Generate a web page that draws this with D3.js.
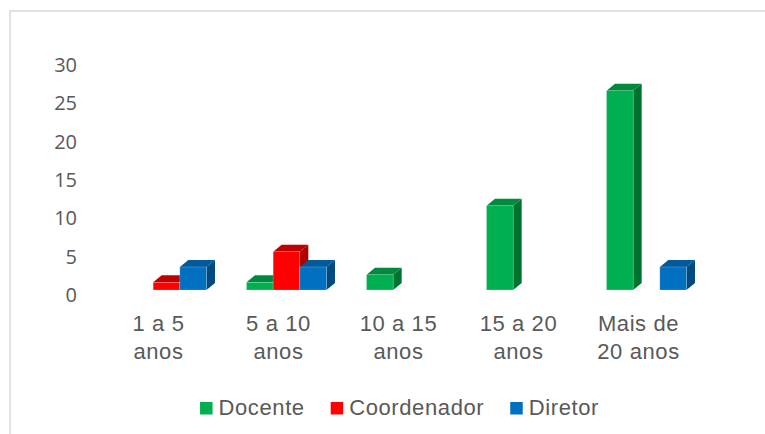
<!DOCTYPE html>
<html>
<head>
<meta charset="utf-8">
<script src="https://cdn.jsdelivr.net/npm/d3@7"></script>
<style>
  html, body { margin: 0; padding: 0; background: #ffffff; }
  svg { display: block; }
</style>
</head>
<body>
<svg id="chart" width="765" height="434"></svg>
<script>
// ---- Data ----
const categories = ["1 a 5 anos", "5 a 10 anos", "10 a 15 anos", "15 a 20 anos", "Mais de 20 anos"];
const categoryLines = [["1 a 5", "anos"], ["5 a 10", "anos"], ["10 a 15", "anos"], ["15 a 20", "anos"], ["Mais de", "20 anos"]];
const seriesNames = ["Docente", "Coordenador", "Diretor"];
const docente = [0, 1, 2, 11, 26];
const coordenador = [1, 5, 0, 0, 0];
const diretor = [3, 3, 0, 0, 3];
const yTicks = [0, 5, 10, 15, 20, 25, 30];

const seriesValues = [docente, coordenador, diretor];
const colors = {
  Docente:     { front: "#00B050", top: "#008A3E", side: "#00722F" },
  Coordenador: { front: "#FF0000", top: "#C00000", side: "#B00000" },
  Diretor:     { front: "#0070C0", top: "#005A9C", side: "#004A80" }
};

const svg = d3.select("#chart");
const W = 765, H = 434;
const textColor = "#595959";

// chart border (only left and top visible)
svg.append("path")
  .attr("d", `M10,${H} L10,11 L${W},11`)
  .attr("fill", "none")
  .attr("stroke", "#d9d9d9")
  .attr("stroke-width", 1.5);

// depth offsets for 3D effect
const DX = 8.5, DY = 7;

const x0 = d3.scaleBand().domain(categories).range([106.5, 706.5])
  .paddingInner(1/3).paddingOuter(1/6);
const x1 = d3.scaleBand().domain(seriesNames).range([0, x0.bandwidth()]);
const y = d3.scaleLinear().domain([0, 30]).range([290, 60]);

// y-axis labels
const yAxis = d3.axisLeft(y).tickValues(yTicks).tickSize(0).tickPadding(0);
const gy = svg.append("g").attr("transform", "translate(77,5)").call(yAxis);
gy.select(".domain").remove();
gy.selectAll("text")
  .attr("fill", textColor)
  .attr("font-family", "'Open Sans', 'Noto Sans', sans-serif")
  .attr("font-size", "20px");

// bars
const barsG = svg.append("g");
categories.forEach((cat, ci) => {
  seriesNames.forEach((s, si) => {
    const v = seriesValues[si][ci];
    if (!v) return;
    const xl = x0(cat) + x1(s);
    const xr = xl + x1.bandwidth();
    const yt = y(v), yb = y(0);
    const c = colors[s];
    const g = barsG.append("g");
    // side face
    g.append("path")
      .attr("d", `M${xr},${yt} L${xr + DX},${yt - DY} L${xr + DX},${yb - DY} L${xr},${yb} Z`)
      .attr("fill", c.side);
    // top face
    g.append("path")
      .attr("d", `M${xl},${yt} L${xl + DX},${yt - DY} L${xr + DX},${yt - DY} L${xr},${yt} Z`)
      .attr("fill", c.top);
    // front face
    g.append("rect")
      .attr("x", xl).attr("y", yt)
      .attr("width", xr - xl).attr("height", yb - yt)
      .attr("fill", c.front)
      .attr("stroke", "rgba(255,255,255,0.35)")
      .attr("stroke-width", 0.6);
  });
});

// category labels
const labelFont = "'Liberation Sans', Arial, sans-serif";
const catG = svg.append("g");
categories.forEach((cat, ci) => {
  const cx = x0(cat) + x0.bandwidth() / 2 - 8;
  const t = catG.append("text")
    .attr("text-anchor", "middle")
    .attr("fill", textColor)
    .attr("font-family", labelFont)
    .attr("font-size", "22px")
    .attr("letter-spacing", "0.6px");
  categoryLines[ci].forEach((line, li) => {
    t.append("tspan").attr("x", cx).attr("y", 331 + li * 28).text(line);
  });
});

// legend
const legendG = svg.append("g");
let lx = 0;
seriesNames.forEach((s, i) => {
  const item = legendG.append("g").attr("transform", `translate(${lx},0)`);
  item.append("rect")
    .attr("x", 0).attr("y", 402).attr("width", 12.5).attr("height", 12.5)
    .attr("fill", colors[s].front);
  const txt = item.append("text")
    .attr("x", 18.5).attr("y", 415)
    .attr("fill", textColor)
    .attr("font-family", labelFont)
    .attr("font-size", "22px")
    .attr("letter-spacing", "0.6px")
    .text(s);
  lx += 18.5 + txt.node().getComputedTextLength() + 26;
});
const legendW = lx - 26;
legendG.attr("transform", `translate(${399.5 - legendW / 2},0)`);
</script>
</body>
</html>
